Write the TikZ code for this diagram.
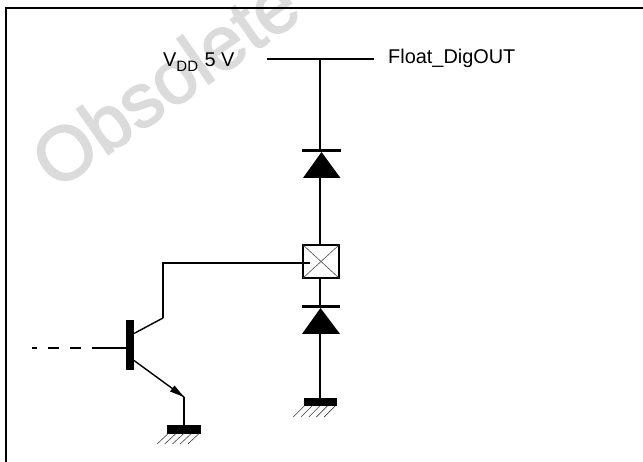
\documentclass[tikz,border=0pt]{standalone}
\usepackage{fontspec}
\setmainfont{Liberation Sans}
\newfontfamily\wmfont[FakeBold=2.2]{Liberation Sans}
\tikzset{
 wire/.style={line width=2pt,black},
 thin wire/.style={line width=1.4pt,black},
 hatch/.style={line width=0.6pt,black!75},
 lbl/.style={inner sep=0pt,anchor=west,font=\fontsize{19.9}{22}\selectfont},
 gnd/.style={fill=black,inner sep=0pt,outer sep=0pt},
 junction/.style={inner sep=0pt,minimum size=0pt},
}
\begin{document}
\begin{tikzpicture}[x=1pt,y=-1pt]
\useasboundingbox (0,0) rectangle (643,462);
\begin{scope}
\clip (0,0) rectangle (643,462);
\node[rotate=35,inner sep=0pt,anchor=west,text=black!14,font=\wmfont\fontsize{76}{76}\selectfont] (wm) at (40,169) {Obsolete};
\end{scope}
\draw[line width=2pt] (5.5,462) -- (5.5,7.7) -- (643,7.7);
\node[lbl] (vdd) at (163,62.5) {V\raisebox{-0.45ex}{\fontsize{15}{17}\selectfont DD}\hspace{1pt} 5 V};
\node[lbl] (out) at (388,58) {Float\_DigOUT};
\coordinate (railL) at (267,59);
\coordinate (railR) at (374,59);
\coordinate (top) at (320,59);
\draw[wire] (railL) -- (railR);
\node[draw,line width=2pt,minimum width=36.5pt,minimum height=33.5pt,inner sep=0pt,outer sep=0pt] (sw) at (321,261.5) {};
\draw[line width=0.6pt,black!70] (sw.north west) -- (sw.south east) (sw.north east) -- (sw.south west);
% diode 1
\node[junction] (d1k) at (320,150) {};
\node[junction] (d1a) at (320,178) {};
\draw[wire] (top) -- (d1k.center);
\draw[wire] (d1a.center) -- (d1a.center |- sw.north);
\draw[line width=3pt] (302,150.5) -- (341,150.5);
\fill (321.5,152) -- (340.5,178) -- (303,178) -- cycle;
% diode 2
\node[junction] (d2k) at (320,306) {};
\node[junction] (d2a) at (320,334) {};
\draw[wire] (d2k.center |- sw.south) -- (d2k.center);
\draw[line width=3pt] (302,306.5) -- (340,306.5);
\fill (320.5,308) -- (340,334) -- (302,334) -- cycle;
% ground 1
\node[gnd,minimum width=33pt,minimum height=8pt] (g1) at (320.5,402) {};
\draw[wire] (d2a.center) -- (d2a.center |- g1.north);
\foreach \i in {0,1,2,3,4}{\draw[hatch] (304.3+\i*7.7,406) -- (293.3+\i*7.7,417);}
% transistor
\node[gnd,minimum width=8pt,minimum height=50pt] (bar) at (130,345) {};
\coordinate (cbend) at (163,318);
\coordinate (cup) at (163,263);
\coordinate (swin) at (310,263);
\coordinate (ej) at (184,397);
\coordinate (b0) at (32,348);
\coordinate (bs) at (92,348);
\draw[thin wire] (bar.east |- 0,333.5) -- (cbend);
\draw[wire,line join=miter] (cbend) -- (cup) -- (swin);
\draw[wire] (bar.west |- bs) -- (bs);
\draw[wire,dash pattern=on 4.7pt off 11.3pt on 11pt off 11pt on 11pt off 11pt] (b0) -- (bs);
\draw[thin wire] (bar.east |- 0,360.5) -- (ej);
\fill (184,397) -- (170,391.5) -- (174.5,385.5) -- cycle;
% ground 2
\node[gnd,minimum width=34pt,minimum height=8.5pt] (g2) at (184,429.3) {};
\draw[wire] (ej) -- (ej |- g2.north);
\foreach \i in {0,1,2,3,4}{\draw[hatch] (168.3+\i*7.7,433.5) -- (157+\i*7.7,444);}
\end{tikzpicture}
\end{document}
